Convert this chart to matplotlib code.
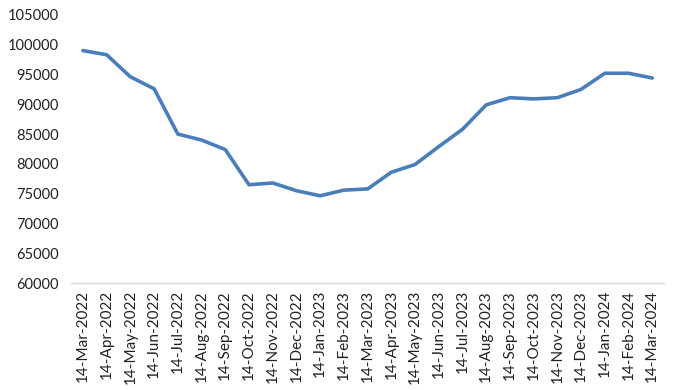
import matplotlib.pyplot as plt

dates = ["14-Mar-2022", "14-Apr-2022", "14-May-2022", "14-Jun-2022", "14-Jul-2022",
         "14-Aug-2022", "14-Sep-2022", "14-Oct-2022", "14-Nov-2022", "14-Dec-2022",
         "14-Jan-2023", "14-Feb-2023", "14-Mar-2023", "14-Apr-2023", "14-May-2023",
         "14-Jun-2023", "14-Jul-2023", "14-Aug-2023", "14-Sep-2023", "14-Oct-2023",
         "14-Nov-2023", "14-Dec-2023", "14-Jan-2024", "14-Feb-2024", "14-Mar-2024"]
values = [99000, 98300, 94600, 92600, 85000, 84000, 82400, 76500, 76800, 75500,
          74650, 75600, 75800, 78600, 79900, 82900, 85800, 89900, 91100, 90900,
          91100, 92500, 95200, 95200, 94400]

plt.rcParams['font.family'] = ['Lato', 'DejaVu Sans']

fig = plt.figure(figsize=(6.77, 3.9), dpi=100)
ax = fig.add_axes([0.105, 0.274, 0.876, 0.688])

x = list(range(len(dates)))
ax.plot(x, values, color='#4A7EBB', linewidth=2.6, solid_capstyle='round', solid_joinstyle='round')

ax.set_xlim(-0.5, len(dates) - 0.5)
ax.set_ylim(60000, 105000)
ax.set_yticks(range(60000, 105001, 5000))
ax.set_xticks(x)
ax.set_xticklabels(dates, rotation=90, fontsize=11, color='#222222')
ax.tick_params(axis='y', labelsize=10.5, labelcolor='#222222', length=0, pad=9)
ax.tick_params(axis='x', length=0, pad=5)

for side in ['top', 'right', 'left']:
    ax.spines[side].set_visible(False)
ax.spines['bottom'].set_color('#d9d9d9')
ax.spines['bottom'].set_linewidth(1)

fig.savefig('out.png', dpi=100)
